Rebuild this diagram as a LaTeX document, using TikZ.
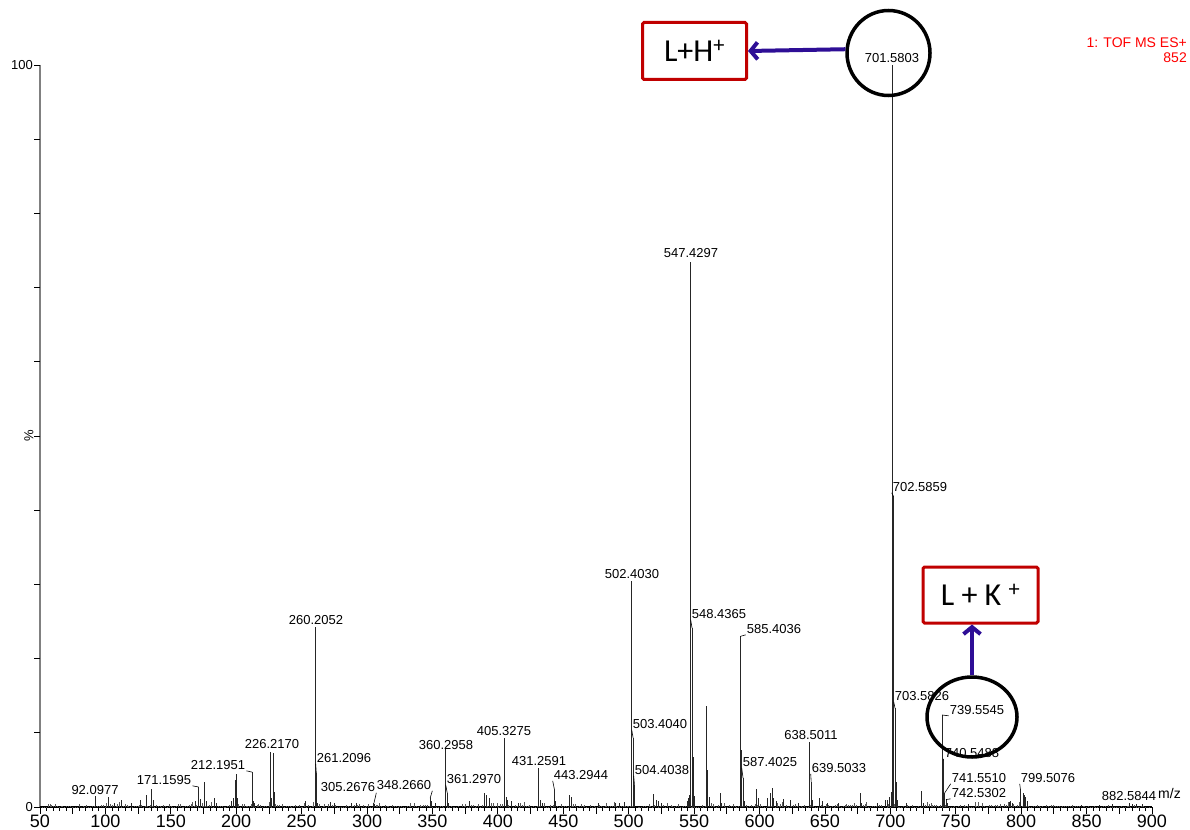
\documentclass[tikz,border=0pt]{standalone}
\usepackage{fontspec}
\setmainfont{Liberation Sans}
\newfontfamily\boxfont{Carlito}
\usetikzlibrary{shapes.geometric,arrows.meta}
\definecolor{boxred}{RGB}{192,0,0}
\definecolor{arrowblue}{RGB}{46,14,150}
\definecolor{specred}{RGB}{255,0,0}
\tikzset{peak/.style = {line width=0.9pt, black!85},
         noise/.style = {line width=0.6pt, black!65},
         pklbl/.style = {font=\fontsize{13}{13}\selectfont, inner sep=1pt},
         xlbl/.style = {font=\fontsize{18}{18}\selectfont, inner sep=0pt},
         leader/.style = {line width=0.6pt},
         ionbox/.style = {draw=boxred, line width=3pt, rounded corners=1.5pt, fill=white, font=\boxfont\fontsize{32}{32}\selectfont},
         ring/.style = {draw, ellipse, line width=3.5pt},
         callout/.style = {draw=arrowblue, line width=4pt, -{Straight Barb[length=7pt,width=17pt]}}}

\begin{document}
\begin{tikzpicture}[x=1pt, y=-1pt]
    \useasboundingbox (0,0) rectangle (1190,829);
    % axes
    \draw[line width=2.2pt, black!50] (40,65) -- (40,807);
    \draw[line width=1.2pt] (40,807) -- (1152,807);
    \foreach \k in {0,...,10} \draw[line width=0.8pt] (40,{807-74.2*\k}) -- ++(-6,0);
    \node[pklbl, anchor=east, inner sep=0pt] (ytop) at (33,65) {100};
    \node[pklbl, anchor=east, inner sep=0pt] (ybot) at (33,807) {0};
    \node[pklbl, rotate=90] (ypct) at (29,436) {\%};

    \begin{scope}[shift={(-25.41pt,-807pt)}, x=1.3082pt, y=7.42pt]
        \foreach \m [evaluate=\m as \len using {ifthenelse(mod(\m,25)==0,7,4)}] in {50,55,...,900}
            \draw[line width=0.8pt] (\m,0) -- (\m,{-\len/7.42});
        \foreach \m in {50,100,...,900}
            \node[xlbl] (x\m) at (\m,{-14/7.42}) {\m};
        % baseline noise
        \pgfmathsetseed{42}
        \foreach \m in {52,53.4,...,898} {
            \pgfmathsetmacro\h{(\m<810 ? 0.75 : 0.35)*rnd*rnd}
            \draw[noise] (\m,0) -- (\m,\h);
        }
        % unlabelled peaks
        \foreach \m/\p in {102/1.3, 107/0.6, 112/0.9, 120/0.5, 127/1.0, 131/1.6, 135.4/2.4, 137/0.9, 169/0.8, 173/1.1,
            175.4/3.4, 177/0.8, 183/1.2, 185/0.6, 196/0.8, 198/1.2, 199.2/3.6, 200.2/4.4, 201.2/1.2, 213/0.8,
            214/0.6, 227.2/1.2, 228.2/7.3, 229.2/2.0, 253/0.8, 262/0.6, 272/0.7, 275/0.5, 288/0.5, 292/0.5,
            306/0.4, 349/0.8, 352/0.5, 362/0.6, 378/0.8, 389.5/1.9, 391.5/1.6, 393.5/1.2, 406.3/1.4, 407.3/0.9,
            410/0.8, 416/0.5, 432.3/1.0, 434/0.6, 444.3/0.8, 455/1.6, 456/1.4, 477/0.6, 490/0.5, 493/0.6,
            497/0.7, 519/1.8, 521/1.0, 523/0.8, 525/0.5, 545/0.8, 546/1.2, 546.8/1.6, 549.4/6.7, 550.4/1.5,
            559.4/13.6, 560.4/5.0, 561.4/1.3, 569.8/1.9, 571/0.6, 586.4/7.7, 588.4/0.8, 597.5/2.4, 599/1.2, 606/1.2,
            608/1.9, 610/2.6, 611/1.2, 613/0.8, 618/1.1, 624/0.9, 630/0.6, 640.5/0.9, 646/1.2, 648/0.8,
            652/0.6, 660/0.5, 677/1.9, 678/0.6, 690/0.6, 696/0.9, 698/1.0, 699.5/1.4, 700.5/2.0, 704.6/3.4,
            705.6/1.0, 712/0.5, 724/2.2, 725/0.6, 743.5/0.6, 760/0.4, 791/0.7, 792/0.8, 793/0.6, 801.5/1.9,
            802.5/1.6, 803.5/1.3, 805/0.8, 846/0.3, 860/0.3, 870/0.4, 885/0.4, 888/0.4, 893/0.4}
            \draw[peak] (\m,0) -- (\m,\p);
        % labelled peaks
        \foreach \m/\p/\n in {92.0977/1.5/92, 171.1595/2.7/171, 212.1951/4.7/212, 226.2170/7.4/226, 260.2052/24.2/260,
            261.2096/4.6/261, 305.2676/0.5/305, 348.2660/1.2/348, 360.2958/7.8/360, 361.2970/1.9/361,
            405.3275/9.3/405, 431.2591/5.2/431, 443.2944/2.3/443, 502.4030/30.4/502, 503.4040/9.3/503,
            504.4038/3.0/504, 547.4297/73.4/547, 548.4365/24.1/548, 585.4036/23.0/585, 587.4025/3.9/587,
            638.5011/8.8/638, 639.5033/3.4/639, 701.5803/100/701, 702.5859/41.8/702, 703.5826/13.3/703,
            739.5545/12.4/739, 740.5488/6.3/740, 741.5510/1.9/741, 742.5302/1.0/742, 799.5076/2.3/799,
            882.5844/0.5/882}
            \draw[peak] (\m,0) -- (\m,\p) coordinate (t\n);
    \end{scope}

    \node[anchor=west, inner sep=0pt, font=\fontsize{14}{14}\selectfont] (mzlbl) at (1158,793) {m/z};
    \node[anchor=east, inner sep=0pt, text=specred, font=\fontsize{14}{14}\selectfont] (acq) at (1187,43) {1: TOF MS ES+};
    \node[anchor=east, inner sep=0pt, text=specred, font=\fontsize{14}{14}\selectfont] (cnt) at (1187,58) {852};

    % peak labels
    \foreach \n/\x/\y/\txt in {92/95/790/92.0977, 171/164/780/171.1595, 212/218/765/212.1951, 226/272/744/226.2170,
        260/316/620/260.2052, 261/344/758/261.2096, 305/348/787/305.2676, 348/404/785/348.2660,
        360/446/745/360.2958, 361/474/779/361.2970, 405/504/731/405.3275, 431/539/761/431.2591,
        443/581/775/443.2944, 502/632/574/502.4030, 503/660/724/503.4040, 504/662/770/504.4038,
        547/691/253/547.4297, 548/719/614/548.4365, 585/774/629/585.4036, 587/770/762/587.4025,
        638/811/735/638.5011, 639/839/768/639.5033, 701/892/58/701.5803, 702/920/487/702.5859,
        703/922/696/703.5826, 739/977/710/739.5545, 740/972/753/740.5488, 741/979/778/741.5510,
        742/979/793/742.5302, 799/1048/778/799.5076, 882/1129/796/882.5844}
        \node[pklbl] (l\n) at (\x,\y) {\txt};
    \foreach \n/\a in {171/south east, 212/south east, 305/south east, 348/south east, 261/south west,
        361/south west, 443/south west, 503/south west, 504/south west, 548/south west, 585/south west,
        587/south west, 639/south west, 702/south west, 703/south west, 739/south west, 740/south west,
        741/south west, 742/south west, 799/south west}
        \draw[leader] (l\n.\a) -- (t\n);

    % annotations
    \node[ring, minimum width=83pt, minimum height=85pt] (ringH) at (888.5,53) {};
    \node[ring, minimum width=90pt, minimum height=80pt] (ringK) at (972,717) {};
    \node[ionbox, minimum width=104pt, minimum height=57pt] (boxH) at (694.5,51) {L+H\textsuperscript{+}};
    \node[ionbox, minimum width=115pt, minimum height=56pt] (boxK) at (980.5,595) {L + K \textsuperscript{+}};
    \draw[callout] (ringH.175) -- (boxH.east);
    \draw[callout] (ringK.north) -- (ringK.north |- boxK.south);
\end{tikzpicture}
\end{document}
